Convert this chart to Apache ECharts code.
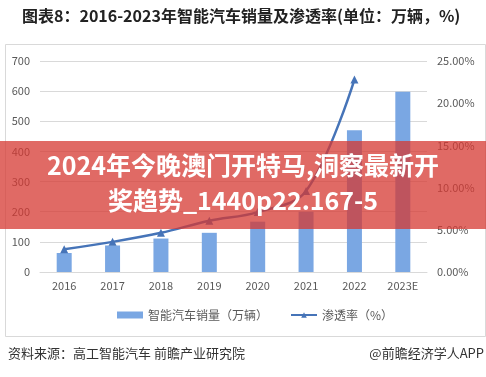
<!DOCTYPE html>
<html><head><meta charset="utf-8">
<script src="https://cdn.jsdelivr.net/npm/echarts@6/dist/echarts.min.js"></script>
<style>html,body{margin:0;padding:0;background:#fff}#c{width:486px;height:377px}</style>
</head><body><div id="c"></div>
<script>
var categories = ['2016','2017','2018','2019','2020','2021','2022','2023E'];
var sales = [63, 88, 111, 130, 167, 200, 470, 598];
var penetration = [2.7, 3.57, 4.64, 6.07, 7.1, 9.6, 22.8];
var leftTicks = [0, 700, 100];
var rightTicks = [0, 25, 5];
var chart = echarts.init(document.getElementById('c'), null, {renderer:'canvas'});
var font = '"Microsoft YaHei","Noto Sans CJK SC",sans-serif';
chart.setOption({
  animation:false,
  backgroundColor:'#fff',
  textStyle:{fontFamily:font},
  grid:{left:40,right:59,top:61,bottom:105},
  legend:{
    top:304,left:112,itemWidth:26,itemHeight:7,itemGap:22,
    textStyle:{color:'#595959',fontSize:12,fontFamily:font},
    data:[{name:'智能汽车销量（万辆）',icon:'rect'},{name:'渗透率（%）'}]
  },
  xAxis:{
    type:'category',data:categories,
    axisLine:{lineStyle:{color:'#d9d9d9'}},axisTick:{show:false},
    axisLabel:{color:'#595959',fontSize:11,margin:8}
  },
  yAxis:[{
    type:'value',min:leftTicks[0],max:leftTicks[1],interval:leftTicks[2],
    axisLine:{show:false},axisTick:{show:false},
    axisLabel:{color:'#595959',fontSize:11,margin:10},
    splitLine:{lineStyle:{color:'#d9d9d9'}}
  },{
    type:'value',min:rightTicks[0],max:rightTicks[1],interval:rightTicks[2],alignTicks:false,
    axisLine:{show:false},axisTick:{show:false},
    axisLabel:{color:'#595959',fontSize:11,margin:10,formatter:function(v){return v.toFixed(2)+'%';}},
    splitLine:{show:false}
  }],
  series:[{
    name:'智能汽车销量（万辆）',type:'bar',data:sales,barWidth:15,
    itemStyle:{color:'#7aa7e3'}
  },{
    name:'渗透率（%）',type:'line',yAxisIndex:1,data:penetration,smooth:0.35,
    symbol:'triangle',symbolSize:8,
    lineStyle:{color:'#4674b8',width:2.5},itemStyle:{color:'#4674b8'}
  }],
  graphic:[
    {type:'rect',left:3,top:42,shape:{width:480,height:292},style:{fill:'none',stroke:'#d9d9d9',lineWidth:1},z:0},
    {type:'text',left:22,top:8,style:{text:'图表8：2016-2023年智能汽车销量及渗透率(单位：万辆，%)',fill:'#222',font:'bold 16px '+font}},
    {type:'text',left:8,top:347,style:{text:'资料来源：高工智能汽车 前瞻产业研究院',fill:'#333',font:'13px '+font}},
    {type:'text',right:2,top:347,style:{text:'@前瞻经济学人APP',fill:'#333',font:'13px '+font}},
    {type:'rect',left:0,top:141,shape:{width:486,height:88},style:{fill:'rgba(214,56,50,0.75)'},z:100},
    {type:'text',left:'center',top:153,z:101,style:{text:'2024年今晚澳门开特马,洞察最新开',fill:'#fff',font:'bold 25px '+font,textAlign:'center'}},
    {type:'text',left:'center',top:188,z:101,style:{text:'奖趋势_1440p22.167-5',fill:'#fff',font:'bold 25px '+font,textAlign:'center'}}
  ]
});
</script></body></html>
